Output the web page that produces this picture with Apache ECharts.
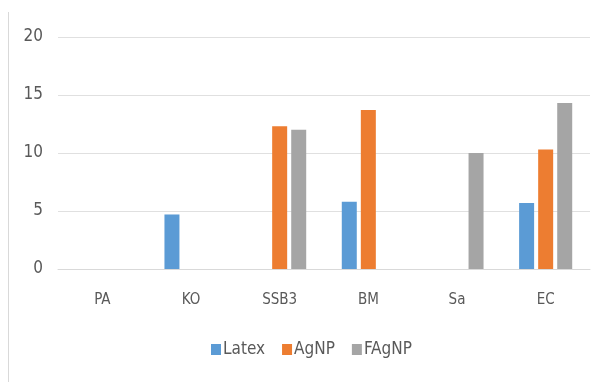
<!DOCTYPE html>
<html>
<head>
<meta charset="utf-8">
<script src="https://cdn.jsdelivr.net/npm/echarts@6/dist/echarts.min.js"></script>
<style>
html,body{margin:0;padding:0;background:#fff;}
#c{width:603px;height:382px;}
</style>
</head>
<body>
<div id="c"></div>
<script>
var categories = ["PA", "KO", "SSB3", "BM", "Sa", "EC"];
var latex = [0, 4.7, 0, 5.8, 0, 5.7];
var agnp = [0, 0, 12.3, 13.7, 0, 10.3];
var fagnp = [0, 0, 12.0, 0, 10.0, 14.3];
var yTicks = [0, 5, 10, 15, 20];

var font = "'DejaVu Sans Condensed', 'Liberation Sans Narrow', sans-serif";
var chart = echarts.init(document.getElementById('c'), null, {renderer: 'canvas'});
function mk(name, data, color) {
  return {
    name: name, type: 'bar', data: data,
    barWidth: 15, barGap: '27%',
    itemStyle: {color: color},
    emphasis: {disabled: true}
  };
}
chart.setOption({
  animation: false,
  backgroundColor: '#fff',
  graphic: [{
    type: 'line', shape: {x1: 8.5, y1: 12, x2: 8.5, y2: 382},
    style: {stroke: '#d9d9d9', lineWidth: 1}
  }],
  grid: {left: 58, right: 13, top: 37, bottom: 113},
  legend: {
    data: ['Latex', 'AgNP', 'FAgNP'],
    bottom: 19, left: 206,
    itemWidth: 10, itemHeight: 11, itemGap: 17,
    icon: 'rect',
    textStyle: {fontFamily: font, fontSize: 17, color: '#595959', padding: [0, 0, 0, -3]}
  },
  xAxis: {
    type: 'category', data: categories,
    axisLine: {lineStyle: {color: '#d9d9d9'}},
    axisTick: {show: false},
    axisLabel: {fontFamily: font, fontSize: 15, color: '#595959', margin: 24}
  },
  yAxis: {
    type: 'value', min: yTicks[0], max: yTicks[yTicks.length - 1], interval: 5,
    axisLine: {show: false}, axisTick: {show: false},
    splitLine: {lineStyle: {color: '#e0e0e0'}},
    axisLabel: {fontFamily: font, fontSize: 17, color: '#595959', margin: 15}
  },
  series: [
    mk('Latex', latex, '#5B9BD5'),
    mk('AgNP', agnp, '#ED7D31'),
    mk('FAgNP', fagnp, '#A5A5A5')
  ]
});
</script>
</body>
</html>
